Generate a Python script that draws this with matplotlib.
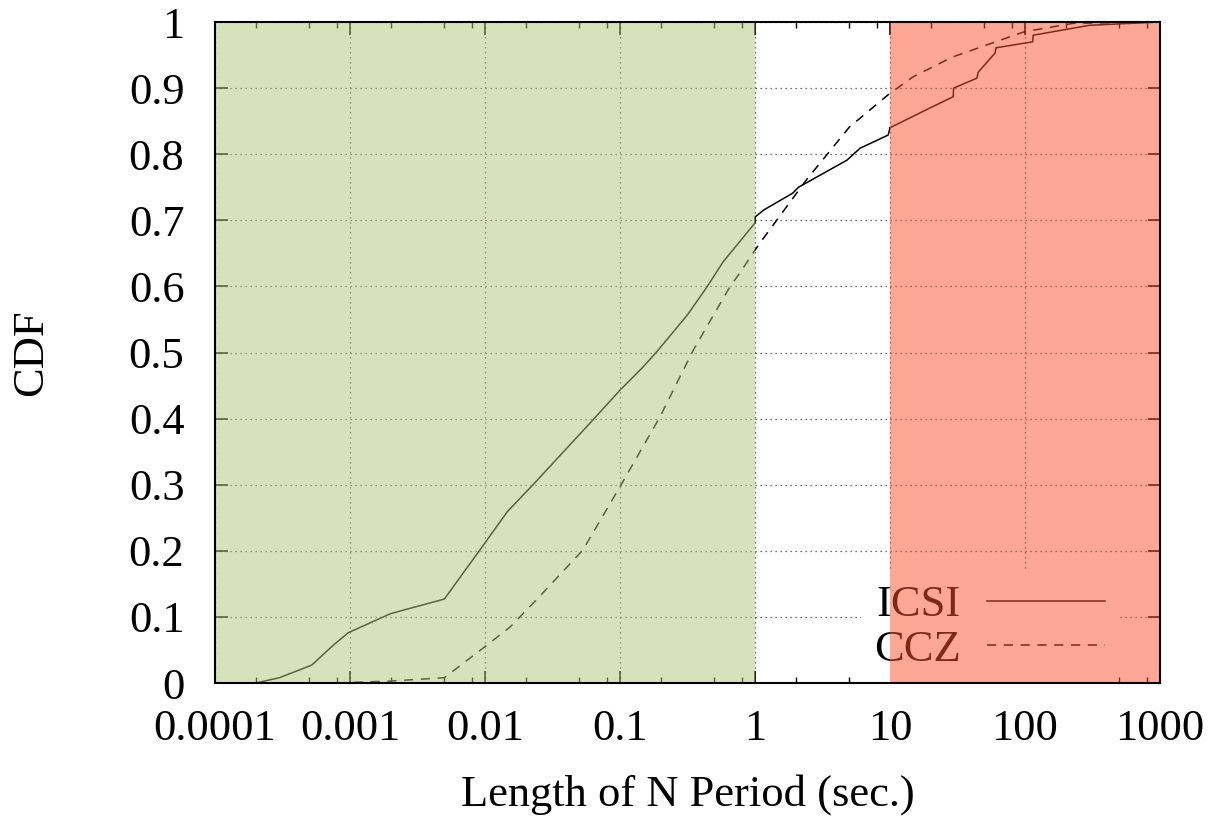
import matplotlib
matplotlib.use("Agg")
import matplotlib.pyplot as plt
from matplotlib.ticker import FixedLocator, NullFormatter

# datos
icsi_x = [2e-4, 3e-4, 5.2e-4, 7.5e-4, 9.7e-4, 2e-3, 5e-3, 0.01, 0.0146, 0.0227, 0.065, 0.1,
          0.148, 0.187, 0.316, 0.44, 0.58, 1.0, 1.0, 1.17, 1.9, 2.1, 4.8, 6.0, 9.7, 10.0,
          19.8, 29.4, 29.6, 44, 45, 60, 61, 114, 115, 300, 1000]
icsi_y = [0.0, 0.008, 0.027, 0.057, 0.076, 0.105, 0.127, 0.212, 0.259, 0.300, 0.401, 0.443,
          0.478, 0.501, 0.557, 0.599, 0.637, 0.696, 0.705, 0.716, 0.741, 0.750, 0.791, 0.809,
          0.829, 0.840, 0.870, 0.887, 0.900, 0.915, 0.924, 0.953, 0.961, 0.970, 0.980, 0.995, 1.0]

ccz_x = [8e-4, 2e-3, 5e-3, 0.01, 0.0154, 0.0246, 0.053, 0.1, 0.197, 0.35, 0.65, 0.77, 1.0,
         1.1, 2.4, 5.0, 9.7, 14.8, 29, 98, 227, 1000]
ccz_y = [0.0, 0.003, 0.008, 0.055, 0.085, 0.128, 0.201, 0.297, 0.402, 0.504, 0.599, 0.620,
         0.655, 0.667, 0.761, 0.841, 0.890, 0.917, 0.947, 0.985, 0.998, 1.0]

xticks = [1e-4, 1e-3, 1e-2, 1e-1, 1, 10, 100, 1000]
xlabels = ["0.0001", "0.001", "0.01", "0.1", "1", "10", "100", "1000"]
yticks = [i / 10 for i in range(11)]
ylabels = ["0", "0.1", "0.2", "0.3", "0.4", "0.5", "0.6", "0.7", "0.8", "0.9", "1"]

plt.rcParams['font.family'] = ['Liberation Serif', 'DejaVu Serif']
fs = 32

fig = plt.figure(figsize=(12.16, 8.22), dpi=100)
ax = fig.add_axes([215 / 1216, 1 - 683 / 822, (1160 - 215) / 1216, (683 - 22) / 822])

ax.plot(icsi_x, icsi_y, color='black', lw=1.1, label='ICSI', zorder=2)
ax.plot(ccz_x, ccz_y, color='black', lw=1.1, linestyle=(0, (6, 5)), label='CCZ', zorder=2)

# zonas sombreadas encima (efecto de mezcla)
ax.axvspan(1e-4, 1, color=(177 / 255, 199 / 255, 125 / 255), alpha=0.5, lw=0, zorder=10)
ax.axvspan(10, 1000, color=(253 / 255, 81 / 255, 49 / 255), alpha=0.5, lw=0, zorder=10)

ax.set_xscale('log')
ax.set_xlim(1e-4, 1000)
ax.set_ylim(0, 1)

ax.xaxis.set_major_locator(FixedLocator(xticks))
ax.set_xticklabels(xlabels)
minors = [m * 10.0 ** e for e in range(-4, 3) for m in (2, 5, 8)]
ax.xaxis.set_minor_locator(FixedLocator(minors))
ax.xaxis.set_minor_formatter(NullFormatter())
ax.set_yticks(yticks)
ax.set_yticklabels(ylabels)

ax.tick_params(axis='both', which='major', direction='in', length=9, width=1.2,
               top=True, right=True, labelsize=fs)
ax.tick_params(axis='x', which='minor', direction='in', length=4.5, width=1.0, top=True)
ax.tick_params(axis='y', which='major', pad=22)
ax.tick_params(axis='x', which='major', pad=19)

ax.grid(True, which='major', color='#444444', linestyle=(0, (1, 3)), lw=0.9, zorder=1)
ax.set_axisbelow(True)

for s in ax.spines.values():
    s.set_linewidth(1.5)
    s.set_zorder(12)

ax.set_xlabel("Length of N Period (sec.)", fontsize=fs, labelpad=18)
ax.set_ylabel("CDF", fontsize=fs, labelpad=56)

leg = ax.legend(loc='lower right', bbox_to_anchor=(0.956, 0.0), markerfirst=False,
                fontsize=fs, handlelength=2.65, handletextpad=0.6, labelspacing=0.1,
                frameon=True, fancybox=False, borderaxespad=0.0, borderpad=0.3)
leg.get_frame().set_facecolor('white')
leg.get_frame().set_edgecolor('none')
leg.get_frame().set_alpha(1)
leg.set_zorder(5)

fig.savefig("out.png", dpi=100)
